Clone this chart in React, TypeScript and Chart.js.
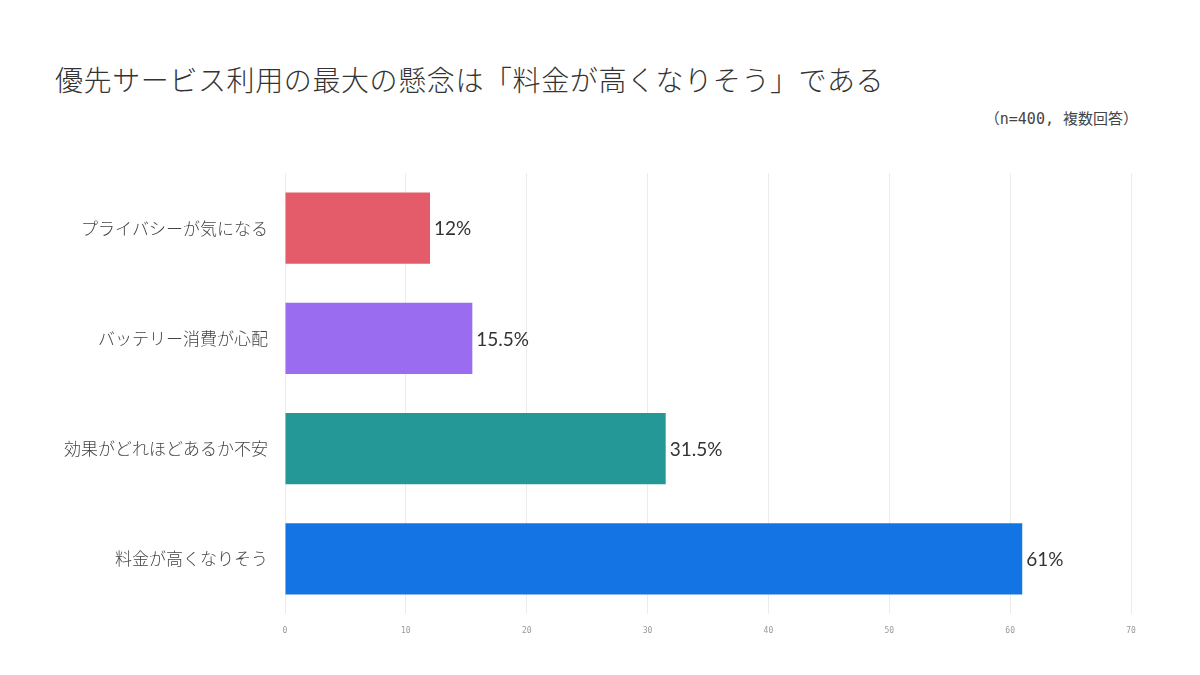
import React, { useEffect, useRef } from 'react';
import { Chart, registerables } from 'chart.js';

Chart.register(...registerables);

const categories = ['プライバシーが気になる', 'バッテリー消費が心配', '効果がどれほどあるか不安', '料金が高くなりそう'];
const values = [12, 15.5, 31.5, 61];
const barColors = ['#e45c6a', '#9a6cf0', '#249797', '#1474e3'];
const xTicks = [0, 10, 20, 30, 40, 50, 60, 70];

const titleText = '優先サービス利用の最大の懸念は「料金が高くなりそう」である';
const noteText = '（n=400, 複数回答）';

const FONT = "Lato, 'Noto Sans CJK JP', sans-serif";
const JP = "'Noto Sans CJK JP', sans-serif";

const valueLabels = {
  id: 'valueLabels',
  afterDatasetsDraw(chart: any) {
    const ctx = chart.ctx;
    const meta = chart.getDatasetMeta(0);
    ctx.save();
    ctx.font = `19px ${FONT}`;
    ctx.fillStyle = '#333';
    ctx.textAlign = 'left';
    ctx.textBaseline = 'middle';
    meta.data.forEach((bar: any, i: number) => {
      ctx.fillText(values[i] + '%', bar.x + 4, bar.y + 1);
    });
    ctx.restore();
  },
};

export default function App() {
  const canvasRef = useRef<HTMLCanvasElement | null>(null);
  useEffect(() => {
    const chart = new Chart(canvasRef.current!, {
      type: 'bar',
      data: {
        labels: categories,
        datasets: [{ data: values, backgroundColor: barColors, borderWidth: 0, categoryPercentage: 1, barPercentage: 0.645 }],
      },
      options: {
        indexAxis: 'y',
        animation: false,
        responsive: false,
        layout: { padding: { left: 55, right: 69, top: 173, bottom: 31 } },
        plugins: { legend: { display: false }, tooltip: { enabled: false } },
        scales: {
          x: {
            min: 0,
            max: 70,
            afterBuildTicks: (s: any) => { s.ticks = xTicks.map((v) => ({ value: v })); },
            afterFit: (s: any) => { s.height = 30; },
            grid: { color: '#ececec', drawTicks: true, tickLength: 6, tickColor: 'rgba(0,0,0,0)' },
            border: { display: false },
            ticks: { color: '#9a9a9a', font: { family: "'DejaVu Sans Mono', monospace", size: 8 }, padding: 6 },
          },
          y: {
            afterFit: (s: any) => { s.width = 230; },
            grid: { display: false },
            border: { display: false },
            ticks: { color: '#444', font: { family: JP, size: 17, weight: '300' }, padding: 9 },
          },
        },
      },
      plugins: [valueLabels],
    });
    return () => chart.destroy();
  }, []);
  return (
    <div style={{ position: 'fixed', left: 0, top: 0, width: 1200, height: 675, background: '#fff', fontFamily: FONT }}>
      <div style={{ position: 'absolute', left: 55, top: 59, fontFamily: JP, fontWeight: 300, fontSize: 28, color: '#333', whiteSpace: 'nowrap', letterSpacing: 0.6 }}>{titleText}</div>
      <div style={{ position: 'absolute', right: 62, top: 107, fontFamily: "'DejaVu Sans Mono', 'Noto Sans CJK JP', monospace", fontSize: 15, color: '#444', whiteSpace: 'nowrap' }}>{noteText}</div>
      <canvas ref={canvasRef} width={1200} height={675} style={{ position: 'absolute', left: 0, top: 0 }} />
    </div>
  );
}
